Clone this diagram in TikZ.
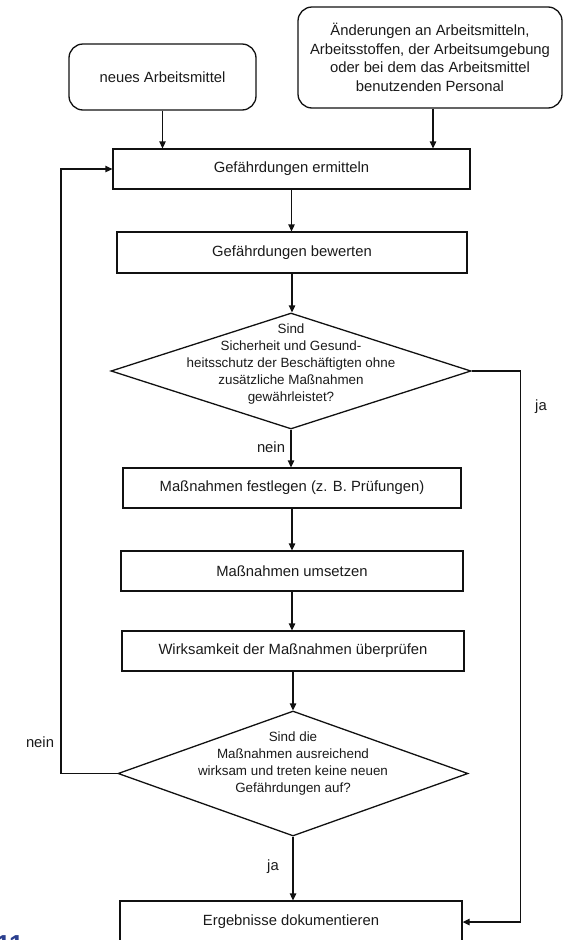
\documentclass[tikz,border=0pt]{standalone}
\usepackage{fontspec}
\setmainfont{Liberation Sans}
\usepackage{tikz}
\usetikzlibrary{arrows.meta,shapes.geometric}
\definecolor{ink}{HTML}{1A1A1A}
\definecolor{stroke}{HTML}{111111}
\definecolor{pagenum}{HTML}{2B3F8F}
\tikzset{
  start/.style={draw=stroke, line width=1.3pt, rounded corners=14pt, inner sep=0pt, align=center, text=ink, font=\fontsize{14.8}{18.7}\selectfont},
  stepbox/.style={draw=stroke, line width=1.3pt, inner sep=0pt, align=center, text=ink, font=\fontsize{14.8}{18}\selectfont},
  decide/.style={draw=stroke, line width=1.3pt, diamond, inner sep=0pt},
  ask/.style={align=center, text=ink, inner sep=0pt, font=\fontsize{13.4}{17}\selectfont},
  arr/.style={draw=stroke, line width=1.3pt, -{Triangle[length=7pt,width=6.5pt]}},
  lab/.style={text=ink, inner sep=0pt, font=\fontsize{14.8}{18}\selectfont},
}

\begin{document}
\begin{tikzpicture}[x=1pt,y=-1pt]
  \useasboundingbox (0,0) rectangle (563,940);
  % entry points
  \node[start, minimum width=187pt, minimum height=66pt] (neu) at (162.5,77) {neues Arbeitsmittel};
  \node[start, minimum width=264pt, minimum height=101pt] (aend) at (430,57.5)
    {Änderungen an Arbeitsmitteln,\\Arbeitsstoffen, der Arbeitsumgebung\\oder bei dem das Arbeitsmittel\\benutzenden Personal};
  % main steps
  \node[stepbox, minimum width=357pt, minimum height=40pt] (ermitteln) at (291.5,169) {Gefährdungen ermitteln};
  \node[stepbox, minimum width=350pt, minimum height=41pt] (bewerten) at (292,252.5) {Gefährdungen bewerten};
  \node[decide, minimum width=360pt, minimum height=116pt] (frage1) at (291,371) {};
  \node[ask] (frage1txt) at (291,364)
    {Sind\\Sicherheit und Gesund-\\heitsschutz der Beschäftigten ohne\\zusätzliche Maßnahmen\\gewährleistet?};
  \node[stepbox, minimum width=338pt, minimum height=40pt] (festlegen) at (292,488) {Maßnahmen festlegen (z. B. Prüfungen)};
  \node[stepbox, minimum width=342pt, minimum height=40pt] (umsetzen) at (292,571) {Maßnahmen umsetzen};
  \node[stepbox, minimum width=342pt, minimum height=40pt] (pruefen) at (293,651) {Wirksamkeit der Maßnahmen überprüfen};
  \node[decide, minimum width=350pt, minimum height=125pt] (frage2) at (293,773.5) {};
  \node[ask] (frage2txt) at (293,764)
    {Sind die\\Maßnahmen ausreichend\\wirksam und treten keine neuen\\Gefährdungen auf?};
  \node[stepbox, minimum width=342pt, minimum height=42pt] (doku) at (291,922) {Ergebnisse dokumentieren};
  % connectors
  \draw[arr] (neu.south) -- (neu.south |- ermitteln.north);
  \draw[arr] ([xshift=3pt]aend.south) -- ([xshift=3pt]aend.south |- ermitteln.north);
  \draw[arr] (ermitteln.south) -- (ermitteln.south |- bewerten.north);
  \draw[arr] (bewerten.south) -- (bewerten.south |- frage1.north);
  \draw[arr] (frage1.south) -- (frage1.south |- festlegen.north);
  \draw[arr] (festlegen.south) -- (festlegen.south |- umsetzen.north);
  \draw[arr] (umsetzen.south) -- (umsetzen.south |- pruefen.north);
  \draw[arr] (pruefen.south) -- (pruefen.south |- frage2.north);
  \draw[arr] (frage2.south) -- (frage2.south |- doku.north);
  \draw[arr] (frage1.east) -- ++(49,0) |- (doku.east);
  \draw[arr] (frage2.west) -- ++(-56.5,0) |- (ermitteln.west);
  % branch labels
  \node[lab] (ja1) at (541,407) {ja};
  \node[lab] (nein1) at (271,447) {nein};
  \node[lab] (nein2) at (40,742) {nein};
  \node[lab] (ja2) at (273,867) {ja};
  \node[anchor=north west, inner sep=0pt, text=pagenum, font=\fontsize{26}{26}\selectfont\bfseries] (seite) at (-4,935) {11};
\end{tikzpicture}
\end{document}
